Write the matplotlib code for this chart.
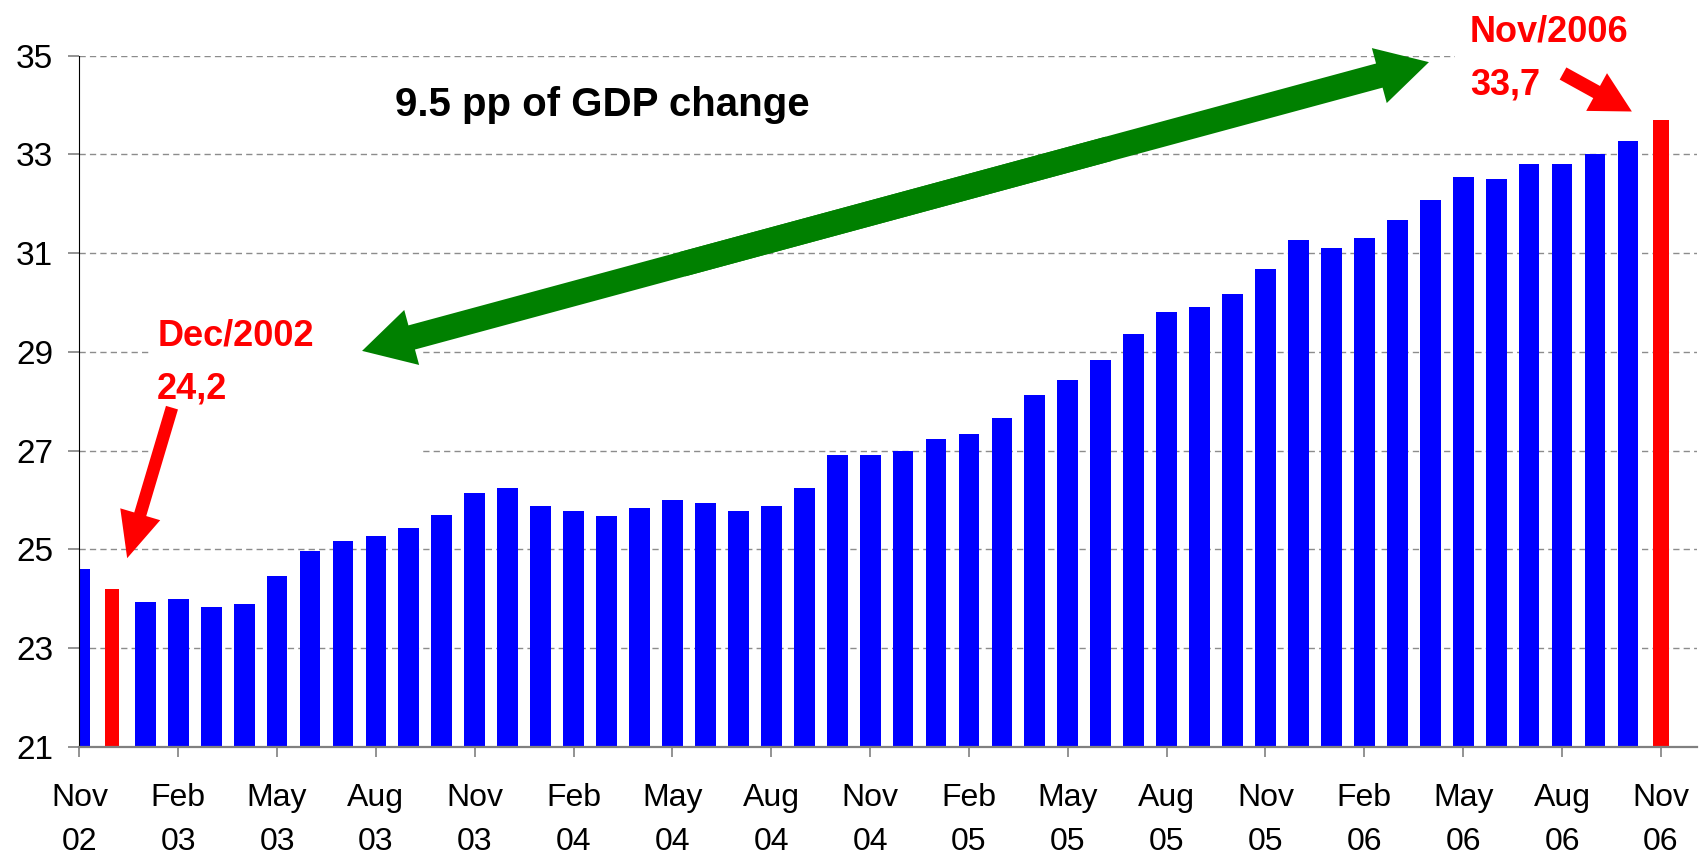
import matplotlib
matplotlib.use('Agg')
import matplotlib.pyplot as plt
from matplotlib.patches import FancyArrowPatch, Rectangle, ArrowStyle
from matplotlib import font_manager as fm
import numpy as np

plt.rcParams['font.family'] = ['Liberation Sans', 'DejaVu Sans']

# monthly values, Nov 02 .. Nov 06
ratio = [24.60, 24.20, 23.94, 23.99, 23.83, 23.89, 24.46, 24.96, 25.17, 25.27,
         25.43, 25.69, 26.15, 26.25, 25.88, 25.78, 25.68, 25.84, 25.99, 25.94,
         25.78, 25.88, 26.25, 26.91, 26.92, 26.99, 27.23, 27.34, 27.66, 28.12,
         28.43, 28.83, 29.36, 29.81, 29.91, 30.18, 30.68, 31.26, 31.10, 31.31,
         31.68, 32.08, 32.54, 32.50, 32.81, 32.81, 33.00, 33.27, 33.70]
highlight = [1, 48]
tick_labels = ['Nov\n02', 'Feb\n03', 'May\n03', 'Aug\n03', 'Nov\n03', 'Feb\n04',
               'May\n04', 'Aug\n04', 'Nov\n04', 'Feb\n05', 'May\n05', 'Aug\n05',
               'Nov\n05', 'Feb\n06', 'May\n06', 'Aug\n06', 'Nov\n06']
y_ticks = [21, 23, 25, 27, 29, 31, 33, 35]

have = {f.name for f in fm.fontManager.ttflist}
if 'Liberation Sans Narrow' in have:
    red_font, red_size = ['Liberation Sans Narrow', 'DejaVu Sans'], 29
else:
    red_font, red_size = ['Liberation Sans', 'DejaVu Sans'], 26

x = np.arange(len(ratio))
colors = ['#ff0000' if i in highlight else '#0000ff' for i in x]
widths = [0.42 if i == 1 else 0.48 if i == 48 else 0.63 for i in x]

fig = plt.figure(figsize=(17, 8.6), dpi=100)
ax = fig.add_axes([0.0467, 0.1317, 0.9516, 0.8035])
ax.bar(x, ratio, width=widths, color=colors, zorder=2)
ax.set_xlim(0, 49.1)
ax.set_ylim(21, 35)
ax.set_yticks(y_ticks)
ax.set_xticks(x[::3])
ax.set_xticklabels(tick_labels, linespacing=1.6)
ax.set_axisbelow(True)
ax.yaxis.grid(True, linestyle=(0, (4.5, 3)), color='#8c8c8c', lw=1)

for s in ['top', 'right']:
    ax.spines[s].set_visible(False)
ax.spines['left'].set_color('black')
ax.spines['left'].set_linewidth(0.8)
ax.spines['bottom'].set_color('#808080')
ax.spines['bottom'].set_linewidth(1.6)
ax.tick_params(axis='x', length=7, width=1.2, color='#808080', labelsize=23, pad=19)
ax.tick_params(axis='y', length=8, width=1.2, color='#808080', labelsize=24, pad=11)

# white boxes behind the callouts (they hide the gridlines)
ax.add_patch(Rectangle((2.15, 26.84), 8.19, 3.4, facecolor='white', edgecolor='none', zorder=1.5))
ax.add_patch(Rectangle((41.75, 34.4), 8, 1.0, facecolor='white', edgecolor='none', zorder=1.5))

ax.text(15.86, 33.77, '9.5 pp of GDP change', ha='center', va='baseline',
        fontsize=29, fontweight='bold', zorder=6)

ax.text(2.36, 29.12, 'Dec/2002', ha='left', va='baseline', color='#ff0000',
        fontsize=red_size, fontweight='bold', family=red_font, zorder=6)
ax.text(2.36, 28.05, '24,2', ha='left', va='baseline', color='#ff0000',
        fontsize=red_size, fontweight='bold', family=red_font, zorder=6)
ax.text(42.2, 35.29, 'Nov/2006', ha='left', va='baseline', color='#ff0000',
        fontsize=red_size, fontweight='bold', family=red_font, zorder=6, clip_on=False)
ax.text(42.2, 34.22, '33,7', ha='left', va='baseline', color='#ff0000',
        fontsize=red_size, fontweight='bold', family=red_font, zorder=6, clip_on=False)

def arrow(p0, p1, col, hl, hw, tw):
    a = FancyArrowPatch(p0, p1, arrowstyle=ArrowStyle.Simple(head_length=hl, head_width=hw, tail_width=tw),
                        mutation_scale=1, color=col, lw=0, shrinkA=0, shrinkB=0,
                        zorder=5, clip_on=False)
    ax.add_patch(a)

# green double arrow (two overlapping halves)
left_tip, right_tip = (8.58, 29.02), (40.96, 34.87)
def along(t):
    return (left_tip[0] + t * (right_tip[0] - left_tip[0]),
            left_tip[1] + t * (right_tip[1] - left_tip[1]))
arrow(along(0.3), right_tip, '#008000', 37, 41, 18)
arrow(along(0.7), left_tip, '#008000', 37, 41, 18)

# red pointers
arrow((2.81, 27.87), (1.45, 24.82), '#ff0000', 33, 30, 9)
arrow((45.03, 34.64), (47.12, 33.87), '#ff0000', 29, 31, 10)

fig.savefig('out.png', dpi=100)
